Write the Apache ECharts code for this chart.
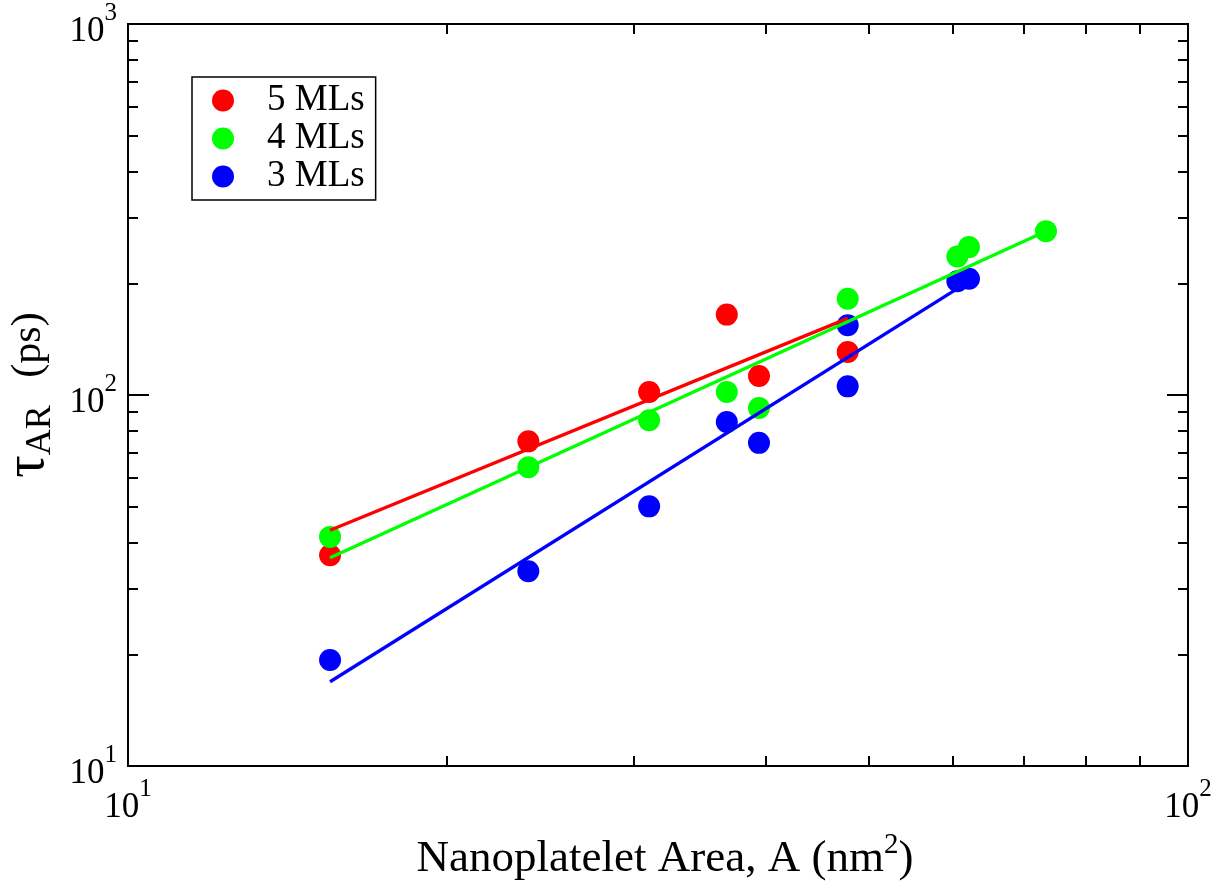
<!DOCTYPE html>
<html><head><meta charset="utf-8">
<script src="https://cdn.jsdelivr.net/npm/echarts@6/dist/echarts.min.js"></script>
<style>html,body{margin:0;padding:0;background:#fff}#c{width:1225px;height:888px}</style>
</head><body><div id="c"></div>
<script>
// ---- data ----
const seriesNames = ['5 MLs', '4 MLs', '3 MLs'];
const seriesColors = ['#ff0000', '#00ff00', '#0000ff'];
const x5 = [15.51, 23.86, 31.02, 36.72, 39.38, 47.75];
const y5 = [37.0, 75.0, 101.9, 164.7, 112.5, 130.6];
const x4 = [15.51, 23.86, 31.02, 36.72, 39.38, 47.75, 60.59, 62.14, 73.45];
const y4 = [41.45, 63.9, 85.5, 101.9, 92.2, 181.8, 236.3, 250.4, 276.5];
const x3 = [15.51, 23.86, 31.02, 36.72, 39.38, 47.75, 47.75, 60.59, 62.14];
const y3 = [19.3, 33.5, 50.1, 84.6, 74.3, 154.1, 105.5, 202.5, 205.8];
// fitted power-law lines (end points)
const fit5x = [15.51, 47.75], fit5y = [43.2, 160.9];
const fit4x = [15.51, 73.45], fit4y = [36.4, 276.5];
const fit3x = [15.51, 62.14], fit3y = [16.87, 202.5];
// ticks
const xMajorTicks = [10, 100];
const xMinorTicks = [20, 30, 40, 50, 60, 70, 80, 90];
const yMajorTicks = [10, 100, 1000];
const yMinorTicks = [20, 30, 40, 50, 60, 70, 80, 90, 200, 300, 400, 500, 600, 700, 800, 900];
const xTitle = 'Nanoplatelet Area, A (nm{s|2})';
const yTitle = '{t|τ}{sub|AR}{n| (ps)}';

// ---- chart ----
const FONT = '"Liberation Serif","Times New Roman","DejaVu Serif",serif';
const zip = (a, b) => a.map((v, i) => [v, b[i]]);
const powLabel = v => '{b|10}{s|' + Math.round(Math.log10(v)) + '}';
const labelRich = {
  b: { fontSize: 35, fontFamily: FONT, color: '#000', lineHeight: 40, padding: [16, 0, 0, 0] },
  s: { fontSize: 25, fontFamily: FONT, color: '#000', lineHeight: 25, padding: [0, 0, 22, 0] }
};
function mkAxis(base, pos, ticks, len, labels) {
  return Object.assign({
    type: 'log', logBase: 10, position: pos, gridIndex: 0,
    axisLine: { show: false },
    splitLine: { show: false },
    minorTick: { show: false },
    axisTick: { show: true, inside: true, length: len, customValues: ticks, lineStyle: { color: '#000', width: 2 } },
    axisLabel: labels ? { show: true, customValues: ticks, formatter: powLabel, rich: labelRich } : { show: false }
  }, base);
}
const xb = { min: 10, max: 100 };
const yb = { min: 10, max: 1000 };
const xAxes = [
  mkAxis(Object.assign({}, xb, {
    name: xTitle, nameLocation: 'middle', nameGap: 63,
    nameTextStyle: { fontSize: 45, fontFamily: FONT, color: '#000', padding: [0, 0, 0, 14],
      rich: { s: { fontSize: 29, fontFamily: FONT, color: '#000', padding: [0, 0, 28, 0] } } }
  }), 'bottom', xMajorTicks, 21, true),
  mkAxis(xb, 'bottom', xMinorTicks, 10, false),
  mkAxis(xb, 'top', xMajorTicks, 21, false),
  mkAxis(xb, 'top', xMinorTicks, 10, false)
];
xAxes[0].axisLabel.margin = 14;
const yAxes = [
  mkAxis(Object.assign({}, yb, {
    name: yTitle, nameLocation: 'middle', nameGap: 60, nameRotate: 90,
    nameTextStyle: { fontFamily: FONT, color: '#000',
      rich: {
        t: { fontSize: 56, fontFamily: FONT, color: '#000' },
        sub: { fontSize: 36, fontFamily: FONT, color: '#000', padding: [24, 0, 0, 0] },
        n: { fontSize: 42, fontFamily: FONT, color: '#000', padding: [0, 0, 0, 17] }
      } }
  }), 'left', yMajorTicks, 21, true),
  mkAxis(yb, 'left', yMinorTicks, 10, false),
  mkAxis(yb, 'right', yMajorTicks, 21, false),
  mkAxis(yb, 'right', yMinorTicks, 10, false)
];
yAxes[0].axisLabel.margin = 11;

const pts = [zip(x5, y5), zip(x4, y4), zip(x3, y3)];
const fits = [zip(fit5x, fit5y), zip(fit4x, fit4y), zip(fit3x, fit3y)];
const series = [];
pts.forEach((d, i) => series.push({
  name: seriesNames[i], type: 'scatter', data: d, symbol: 'circle', symbolSize: 22,
  itemStyle: { color: seriesColors[i], opacity: 1 }, z: 2, silent: true, xAxisIndex: 0, yAxisIndex: 0
}));
fits.forEach((d, i) => series.push({
  name: seriesNames[i] + ' fit', type: 'line', data: d, showSymbol: false, symbol: 'none',
  lineStyle: { color: seriesColors[i], width: 3.3 }, z: 3, silent: true, xAxisIndex: 0, yAxisIndex: 0
}));

const chart = echarts.init(document.getElementById('c'), null, { renderer: 'canvas' });
chart.setOption({
  animation: false,
  backgroundColor: '#fff',
  grid: { left: 128, top: 24, right: 37, bottom: 122, show: true, borderColor: '#000', borderWidth: 2,
    backgroundColor: 'transparent', containLabel: false, outerBoundsMode: 'none' },
  legend: {
    data: seriesNames, orient: 'vertical', left: 192, top: 77,
    icon: 'circle', itemWidth: 22, itemHeight: 22, itemGap: 1,
    borderColor: '#000', borderWidth: 1.5, borderRadius: 0,
    padding: [5, 11, 5, 20],
    textStyle: { fontSize: 37, fontFamily: FONT, color: '#000', lineHeight: 36, padding: [0, 0, 0, 28] },
    selectedMode: false
  },
  xAxis: xAxes,
  yAxis: yAxes,
  series: series
});
</script></body></html>
